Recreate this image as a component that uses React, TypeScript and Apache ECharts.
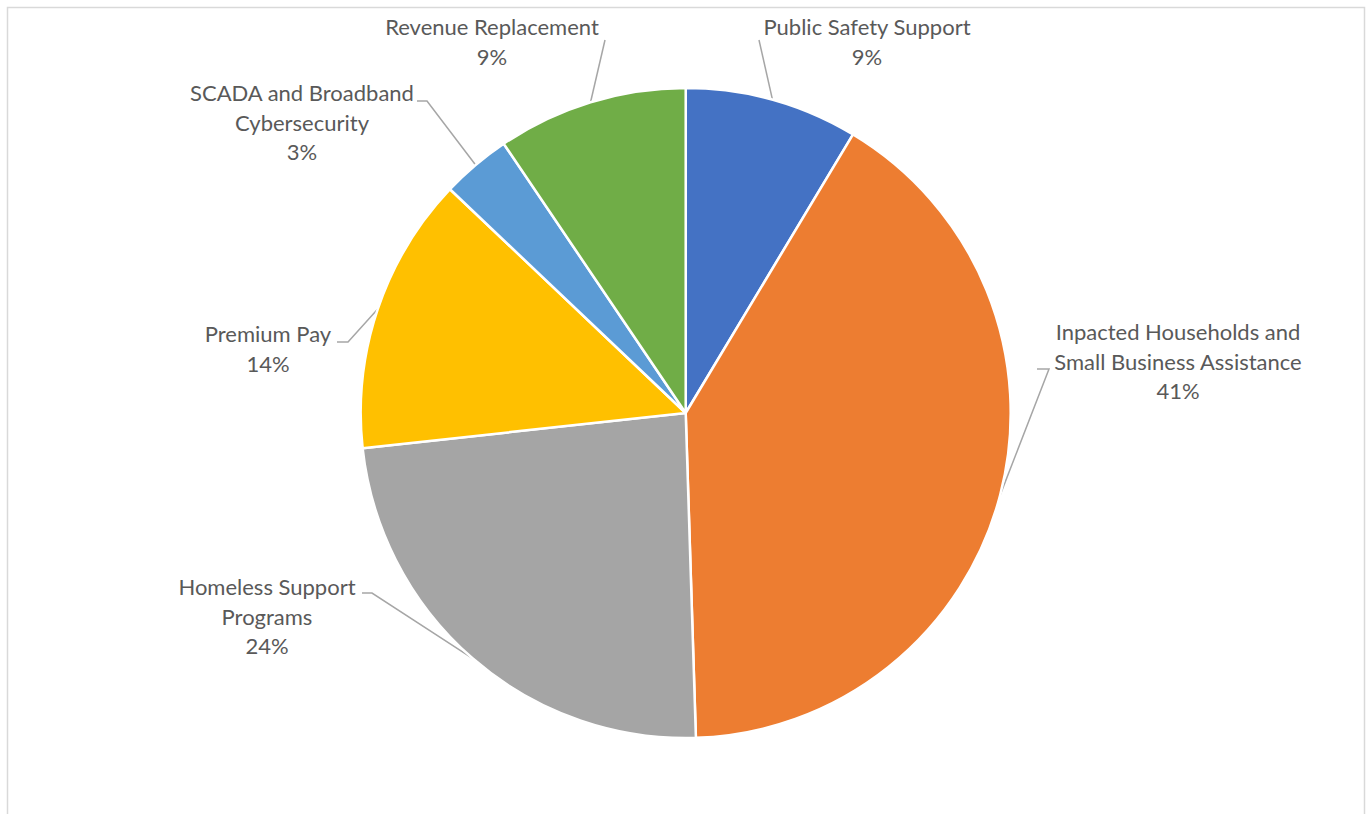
import React, { useEffect, useRef } from "react";
import * as echarts from "echarts";

// ---- data ----
const categories = [
  "Public Safety Support",
  "Inpacted Households and\nSmall Business Assistance",
  "Homeless Support\nPrograms",
  "Premium Pay",
  "SCADA and Broadband\nCybersecurity",
  "Revenue Replacement",
];
const values = [8.6, 40.85, 23.75, 13.8, 3.45, 9.45];

// ---- styles / layout ----
const colors = ["#4472C4", "#ED7D31", "#A5A5A5", "#FFC000", "#5B9BD5", "#70AD47"];
// label block: [centerX, topY]
const labelAnchors = [
  [867, 12],
  [1178, 317],
  [267, 572],
  [268, 319],
  [302, 78],
  [492, 12],
];
// leader line points after the pie-edge point
const leaderTails = [
  [[759, 40]],
  [[1049, 369], [1037, 369]],
  [[372, 593], [362, 593]],
  [[348, 342], [337, 342]],
  [[427, 101], [417, 101]],
  [[605, 40]],
];

const FONT = "Lato, 'Open Sans', sans-serif";

export default function App() {
  const ref = useRef<HTMLDivElement>(null);
  useEffect(() => {
    document.body.style.margin = "0";
    if (!ref.current) return;
    const chart = echarts.init(ref.current, null, { renderer: "svg" });
    chart.setOption({
      animation: false,
      backgroundColor: "#ffffff",
      graphic: [
        {
          type: "rect",
          shape: { x: 7.5, y: 7.5, width: 1357, height: 830 },
          style: { fill: "none", stroke: "#d9d9d9", lineWidth: 1.5 },
          silent: true,
        },
      ],
      series: [
        {
          type: "pie",
          center: [685.7, 413],
          radius: 325,
          startAngle: 90,
          clockwise: true,
          avoidLabelOverlap: false,
          itemStyle: { borderColor: "#ffffff", borderWidth: 2.5 },
          label: {
            show: true,
            position: "outside",
            color: "#595959",
            fontFamily: FONT,
            fontSize: 22,
            lineHeight: 29.5,
            align: "center",
            formatter: (p: any) => `${p.name}\n${Math.round(p.percent)}%`,
          },
          labelLine: {
            show: true,
            lineStyle: { color: "#a6a6a6", width: 1.5 },
          },
          labelLayout: (params: any) => {
            const i = params.dataIndex;
            const p0 = params.labelLinePoints ? params.labelLinePoints[0] : null;
            const out: any = {
              x: labelAnchors[i][0],
              y: labelAnchors[i][1],
              align: "center",
              verticalAlign: "top",
            };
            if (p0) {
              const pts = [p0, ...leaderTails[i]];
              if (pts.length === 2) pts.push(pts[1]);
              out.labelLinePoints = pts;
            }
            return out;
          },
          emphasis: { disabled: true },
          data: categories.map((name, i) => ({
            name,
            value: values[i],
            itemStyle: { color: colors[i] },
          })),
        },
      ],
    });
    return () => chart.dispose();
  }, []);
  return <div ref={ref} style={{ width: 1372, height: 814 }} />;
}
